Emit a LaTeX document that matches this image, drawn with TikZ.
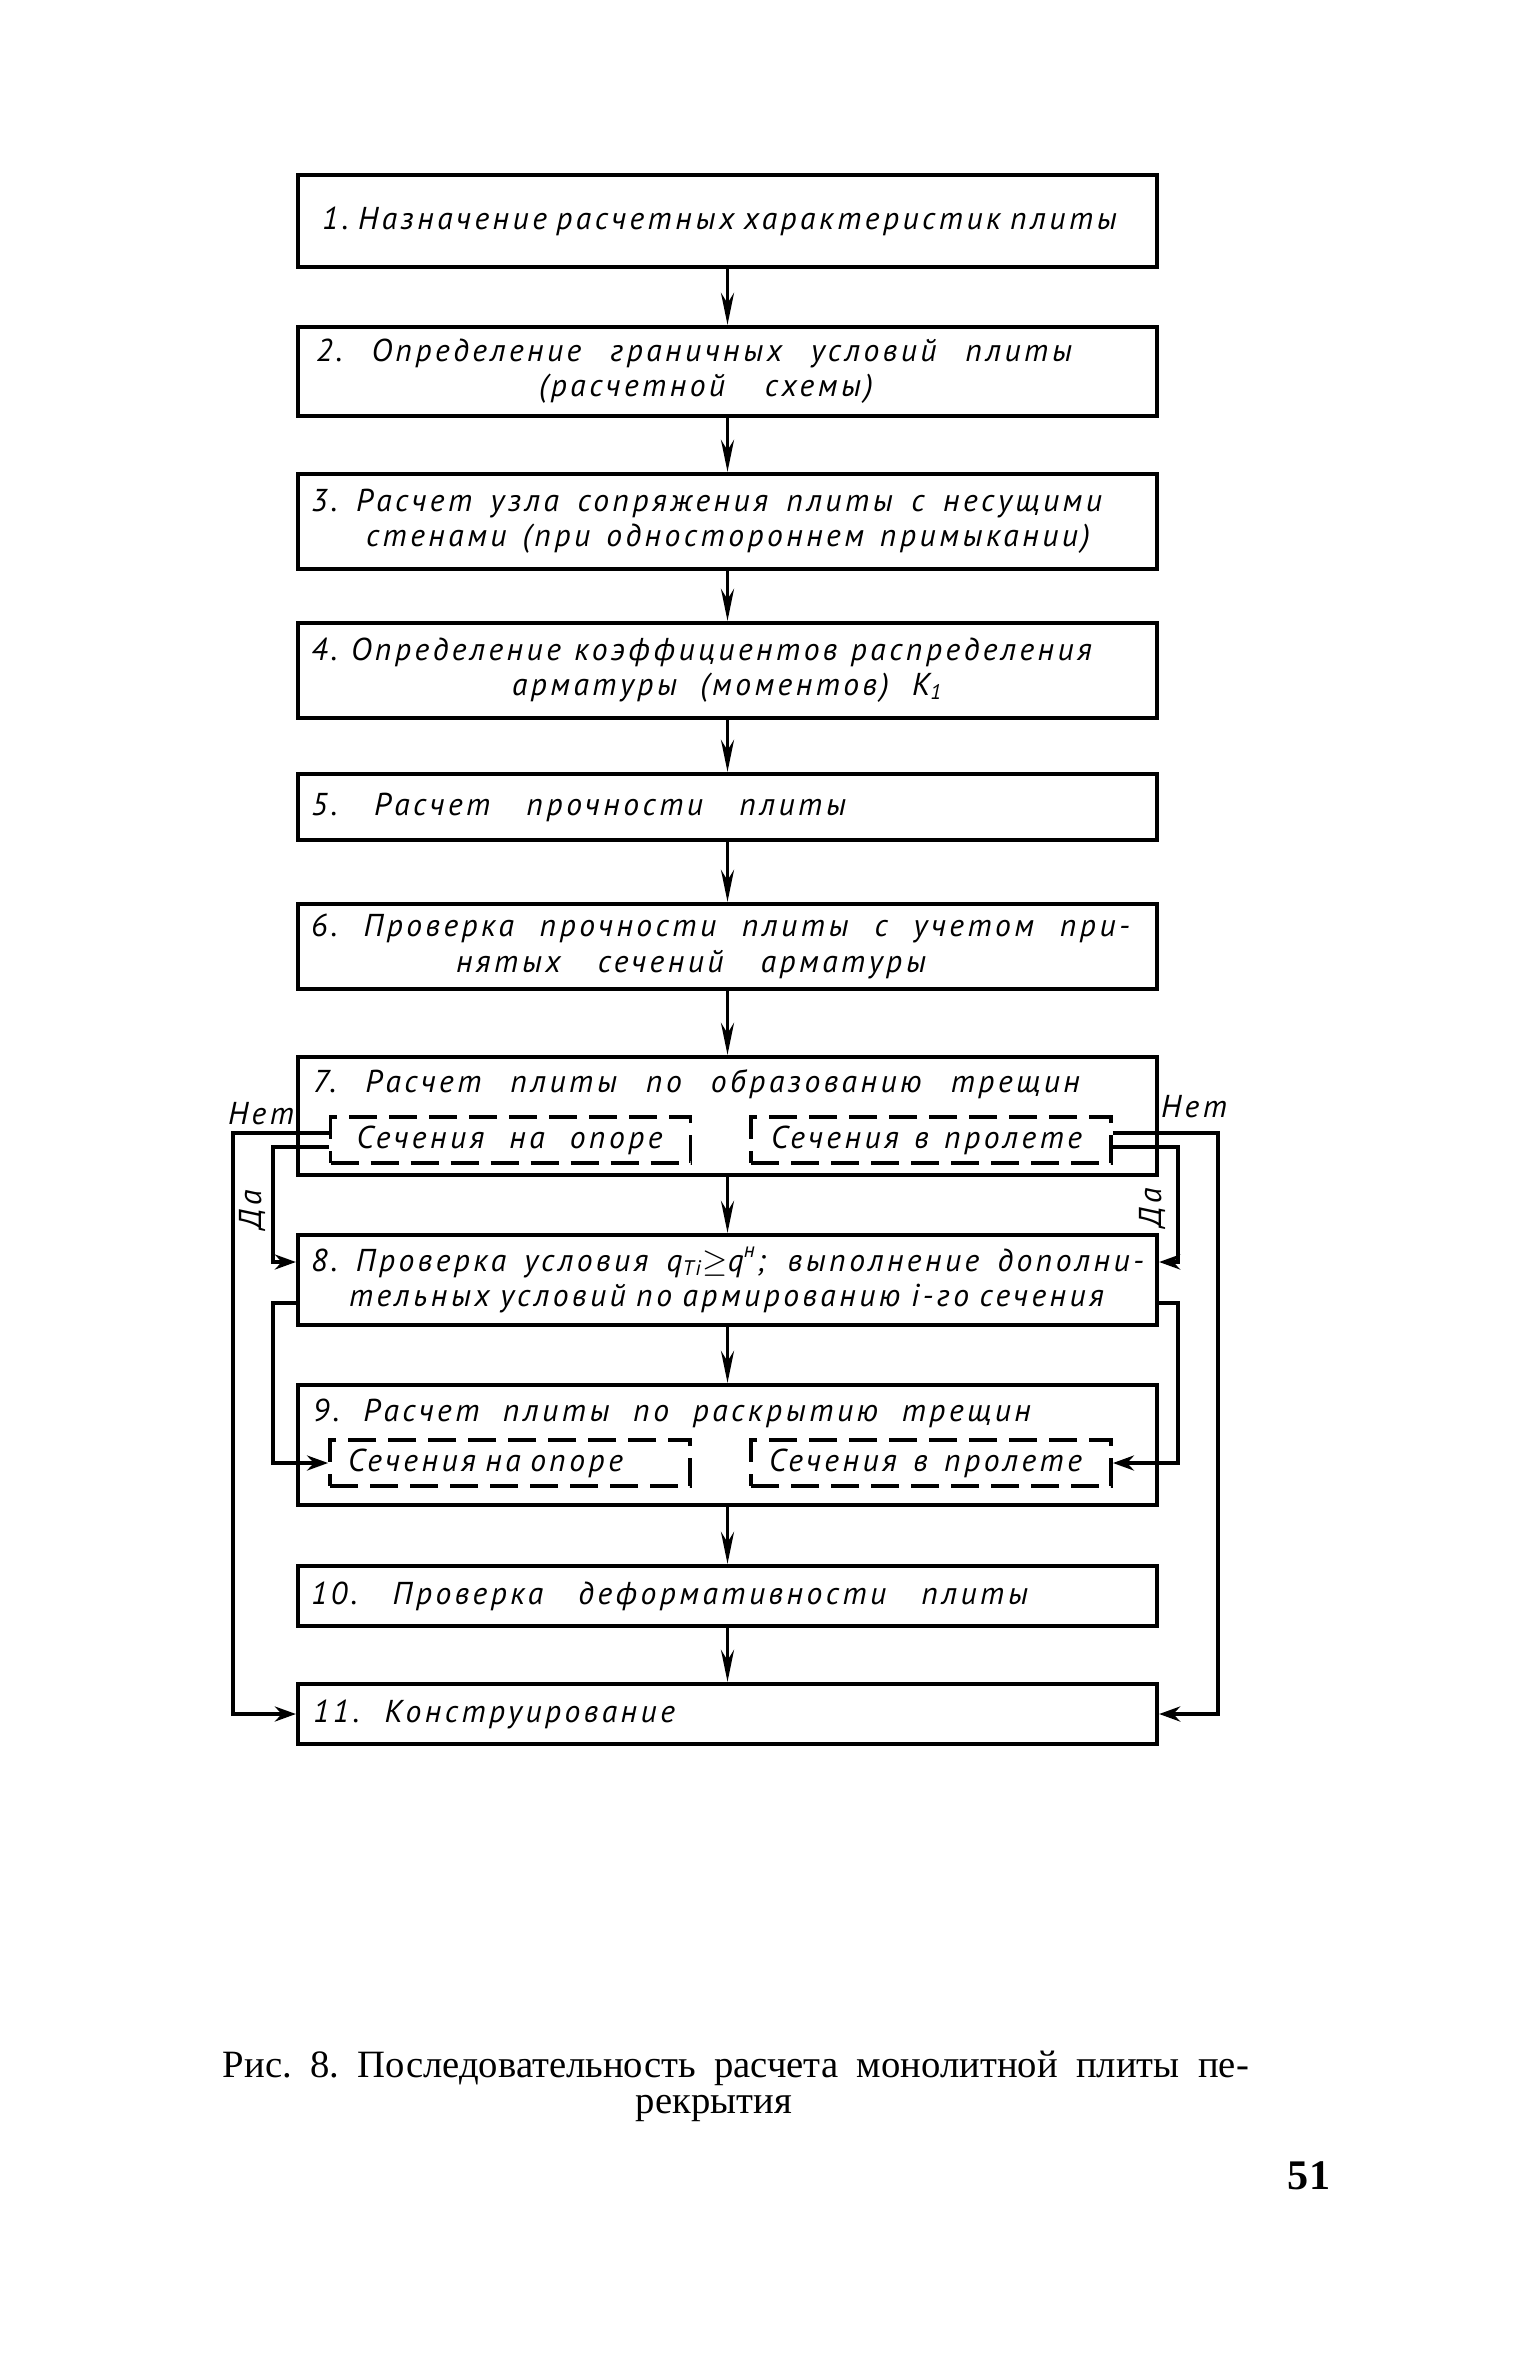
\documentclass[tikz,border=0pt]{standalone}
\usepackage{fontspec}
\usetikzlibrary{arrows.meta,calc}
\newfontfamily\lett[LetterSpace=11]{PT Sans}
\newfontfamily\capfont{Liberation Serif}
\newcommand{\rowline}[3][0]{\hspace*{#1mm}\makebox[#2mm][s]{\spaceskip=.3em plus 1fil\xspaceskip=\spaceskip\relax #3}}

\begin{document}
\begin{tikzpicture}[x=0.1mm, y=-0.1mm, line width=1.1pt,
    every node/.style={font=\lett\itshape\fontsize{9}{10}\selectfont},
    blk/.style={draw, line width=1.2pt, minimum width=85.9mm, text width=83.3mm,
      inner xsep=1.3mm, inner ysep=0pt, align=left},
    sec/.style={draw, dash pattern=on 2.8mm off 1.2mm, minimum width=36mm,
      minimum height=4.6mm, text width=32.4mm, inner xsep=1.8mm, inner ysep=0pt, align=left},
    lab/.style={inner sep=0pt},
    arr/.style={-{Stealth[length=3.2mm,width=1.3mm]}},
    sarr/.style={-{Stealth[length=2.1mm,width=1.5mm]}}]
  \useasboundingbox (0,0) rectangle (1536,2362);

  \node[blk, minimum height=9.2mm] (b1) at (727.5,221)
    {\rowline[1.1]{79.2}{1. Назначение расчетных характеристик плиты}};
  \node[blk, minimum height=8.9mm] (b2) at (727.5,371.5)
    {\rowline[0.5]{75.6}{2. Определение граничных условий плиты}\\
     \rowline[22.8]{33.4}{(расчетной схемы)}};
  \node[blk, minimum height=9.5mm] (b3) at (727.5,521.5)
    {\rowline{79.1}{3. Расчет узла сопряжения плиты с несущими}\\
     \rowline[5.5]{72.4}{стенами (при одностороннем примыкании)}};
  \node[blk, minimum height=9.5mm] (b4) at (727.5,670.5)
    {\rowline{78.1}{4. Определение коэффициентов распределения}\\
     \rowline[20.1]{43.1}{арматуры (моментов) K\textsubscript{1}}};
  \node[blk, minimum height=6.6mm] (b5) at (727.5,807)
    {\rowline{53.5}{5. Расчет прочности плиты}};
  \node[blk, minimum height=8.5mm] (b6) at (727.5,946.5)
    {\rowline{81.9}{6. Проверка прочности плиты с учетом при-}\\
     \rowline[14.5]{47.0}{нятых сечений арматуры}};
  \node[blk, minimum height=11.8mm] (b7) at (727.5,1116) {};
  \node[lab, anchor=west] (t7) at (311,1084)
    {\rowline{76.7}{7. Расчет плиты по образованию трещин}};
  \node[sec] (s7a) at (510.5,1140) {\rowline[0.8]{30.6}{Сечения на опоре}};
  \node[sec] (s7b) at (931,1140) {\rowline[0.2]{31.1}{Сечения в пролете}};
  \node[blk, minimum height=9.0mm] (b8) at (727.5,1280)
    {\rowline{83.3}{8. Проверка условия q\textsubscript{Ti}$\geq$q\textsuperscript{н}; выполнение дополни-}\\
     \rowline[3.8]{75.5}{тельных условий по армированию i-го сечения}};
  \node[blk, minimum height=12mm] (b9) at (727.5,1445) {};
  \node[lab, anchor=west] (t9) at (311,1413)
    {\rowline{71.8}{9. Расчет плиты по раскрытию трещин}};
  \node[sec] (s9a) at (510,1463) {\rowline{27}{Сечения на опоре}};
  \node[sec] (s9b) at (931,1463) {\rowline{31.3}{Сечения в пролете}};
  \node[blk, minimum height=6.0mm] (b10) at (727.5,1596)
    {\rowline{71.7}{10. Проверка деформативности плиты}};
  \node[blk, minimum height=6.0mm] (b11) at (727.5,1714)
    {\rowline[0.2]{36.2}{11. Конструирование}};

  \foreach \u/\v in {b1/b2,b2/b3,b3/b4,b4/b5,b5/b6,b6/b7,b7/b8,b8/b9,b9/b10,b10/b11}
    \draw[arr] (\u.south) -- (\v.north);

  \coordinate (lo) at (233,0);
  \coordinate (li) at (273,0);
  \coordinate (ri) at (1178,0);
  \coordinate (ro) at (1218,0);
  \coordinate (no7l) at ([yshift=0.7mm]s7a.west);
  \coordinate (yes7l) at ([yshift=-0.7mm]s7a.west);
  \coordinate (no7r) at ([yshift=0.7mm]s7b.east);
  \coordinate (yes7r) at ([yshift=-0.7mm]s7b.east);
  \coordinate (in8l) at ([yshift=1.8mm]b8.west);
  \coordinate (in8r) at ([yshift=1.8mm]b8.east);
  \coordinate (out8l) at ([yshift=-2.3mm]b8.west);
  \coordinate (out8r) at ([yshift=-2.3mm]b8.east);

  \draw[sarr] (no7l) -| (lo |- b11.west) -- (b11.west);
  \draw[sarr] (yes7l) -| (li |- in8l) -- (in8l);
  \draw[sarr] (out8l) -| (li |- s9a.west) -- (s9a.west);
  \draw[sarr] (no7r) -| (ro |- b11.east) -- (b11.east);
  \draw[sarr] (yes7r) -| (ri |- in8r) -- (in8r);
  \draw[sarr] (out8r) -| (ri |- s9b.east) -- (s9b.east);

  \node[lab] (nol) at (261,1114) {Нет};
  \node[lab] (nor) at (1194,1107) {Нет};
  \node[lab, rotate=90] (yesl) at (252,1210) {Да};
  \node[lab, rotate=90] (yesr) at (1152,1208) {Да};

  \node[lab, anchor=west, font=\capfont\fontsize{11}{13}\selectfont] (cap1) at (221,2068)
    {\rowline{102.6}{Рис. 8. Последовательность расчета монолитной плиты пе-}};
  \node[lab, anchor=west, font=\capfont\fontsize{11}{13}\selectfont] (cap2) at (634,2108)
    {рекрытия};
  \node[lab, anchor=west, font=\capfont\bfseries\fontsize{12}{14}\selectfont] (pg) at (1286,2176)
    {51};
\end{tikzpicture}
\end{document}
